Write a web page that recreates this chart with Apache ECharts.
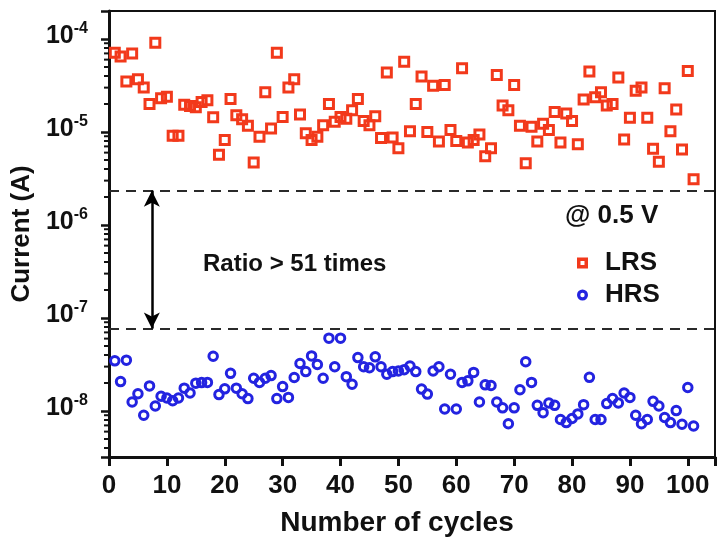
<!DOCTYPE html>
<html><head><meta charset="utf-8">
<script src="https://cdn.jsdelivr.net/npm/echarts@6/dist/echarts.min.js"></script>
<style>html,body{margin:0;padding:0;background:#fff}#c{width:718px;height:542px}</style>
</head><body><div id="c"></div>
<script>
const cycles = [1,2,3,4,5,6,7,8,9,10,11,12,13,14,15,16,17,18,19,20,21,22,23,24,25,26,27,28,29,30,31,32,33,34,35,36,37,38,39,40,41,42,43,44,45,46,47,48,49,50,51,52,53,54,55,56,57,58,59,60,61,62,63,64,65,66,67,68,69,70,71,72,73,74,75,76,77,78,79,80,81,82,83,84,85,86,87,88,89,90,91,92,93,94,95,96,97,98,99,100,101];
const lrs = [7.1e-5,6.5e-5,3.5e-5,7.0e-5,3.7e-5,3.0e-5,2.0e-5,9.1e-5,2.3e-5,2.4e-5,
  9.1e-6,9.1e-6,1.96e-5,1.9e-5,1.85e-5,2.1e-5,2.2e-5,1.44e-5,5.7e-6,8.2e-6,
  2.27e-5,1.51e-5,1.37e-5,1.17e-5,4.7e-6,8.9e-6,2.67e-5,1.09e-5,7.1e-5,1.45e-5,
  3.0e-5,3.7e-5,1.54e-5,9.7e-6,8.2e-6,8.9e-6,1.18e-5,2.0e-5,1.29e-5,1.45e-5,
  1.39e-5,1.71e-5,2.27e-5,1.31e-5,1.18e-5,1.48e-5,8.6e-6,4.36e-5,8.7e-6,6.7e-6,
  5.7e-5,1.02e-5,2.0e-5,3.95e-5,1.0e-5,3.15e-5,7.9e-6,3.2e-5,1.05e-5,8.0e-6,
  4.84e-5,7.7e-6,8.2e-6,9.4e-6,5.5e-6,6.7e-6,4.1e-5,1.93e-5,1.71e-5,3.2e-5,
  1.17e-5,4.6e-6,1.14e-5,7.9e-6,1.23e-5,1.05e-5,1.64e-5,7.7e-6,1.58e-5,1.31e-5,
  7.4e-6,2.24e-5,4.46e-5,2.37e-5,2.67e-5,1.93e-5,2.0e-5,3.86e-5,8.3e-6,1.42e-5,
  2.78e-5,3.0e-5,1.42e-5,6.6e-6,4.8e-6,2.95e-5,1.02e-5,1.74e-5,6.5e-6,4.54e-5,3.1e-6];
const hrs = [3.46e-8,2.07e-8,3.52e-8,1.25e-8,1.53e-8,9.0e-9,1.86e-8,1.13e-8,1.44e-8,1.38e-8,
  1.29e-8,1.38e-8,1.76e-8,1.56e-8,1.99e-8,2.02e-8,2.03e-8,3.88e-8,1.5e-8,1.73e-8,
  2.54e-8,1.76e-8,1.53e-8,1.36e-8,2.25e-8,2.03e-8,2.25e-8,2.4e-8,1.36e-8,1.83e-8,
  1.4e-8,2.29e-8,3.24e-8,2.65e-8,3.91e-8,3.16e-8,2.25e-8,6.07e-8,2.99e-8,6.07e-8,
  2.34e-8,1.94e-8,3.75e-8,2.99e-8,2.92e-8,3.82e-8,2.99e-8,2.48e-8,2.65e-8,2.69e-8,
  2.78e-8,3.04e-8,2.65e-8,1.72e-8,1.52e-8,2.69e-8,2.99e-8,1.05e-8,2.48e-8,1.05e-8,
  2.03e-8,2.11e-8,2.6e-8,1.25e-8,1.91e-8,1.88e-8,1.25e-8,1.08e-8,7.3e-9,1.08e-8,
  1.69e-8,3.38e-8,2.03e-8,1.15e-8,9.6e-9,1.22e-8,1.15e-8,8.1e-9,7.5e-9,8.3e-9,
  9.3e-9,1.17e-8,2.3e-8,8.1e-9,8.1e-9,1.2e-8,1.36e-8,1.22e-8,1.56e-8,1.4e-8,
  9.0e-9,7.3e-9,8.1e-9,1.27e-8,1.13e-8,8.5e-9,7.5e-9,1.01e-8,7.2e-9,1.79e-8,6.9e-9];
const xTickLabels = [0,10,20,30,40,50,60,70,80,90,100];
const yDecadeExponents = [-8,-7,-6,-5,-4];
const yMinorMantissas = [2,3,4,5,6,7,8,9];
const yMinorExponents = [-9,-8,-7,-6,-5,-4];
const upperLine = 2.34e-6;
const lowerLine = 7.7e-8;
const arrowCycle = 7.4;
const seriesNames = ['LRS','HRS'];
const ratioText = 'Ratio > 51 times';
const condText = '@ 0.5 V';

const X_MIN = 0, X_MAX = 104.7;
const Y_MIN = 3.2e-9, Y_MAX = 2.0e-4;
const FONT = '"Liberation Sans", Arial, sans-serif';
const RED = '#f2391b', BLUE = '#2323e0', INK = '#111';

const minorTicks = [];
yMinorExponents.forEach(e => yMinorMantissas.forEach(m => {
  const v = m * Math.pow(10, e);
  if (v > Y_MIN && v < Y_MAX) minorTicks.push(v);
}));

const dashStyle = {type: [10, 7], color: '#2a2a2a', width: 2};
const squareRingIcon = 'path://M0,0H11V11H0Z M3.5,3.5V7.5H7.5V3.5Z';
const circleRingIcon = 'path://M5.5,0A5.5,5.5 0 1,1 5.5,11A5.5,5.5 0 1,1 5.5,0Z M5.5,3.3A2.2,2.2 0 1,0 5.5,7.7A2.2,2.2 0 1,0 5.5,3.3Z';

const chart = echarts.init(document.getElementById('c'), null, {renderer: 'canvas'});
chart.setOption({
  animation: false,
  backgroundColor: '#fff',
  textStyle: {fontFamily: FONT},
  grid: {left: 109, right: 3, top: 11, bottom: 79, show: true, borderColor: INK, borderWidth: 2, containLabel: false},
  xAxis: {
    type: 'value', min: X_MIN, max: X_MAX, interval: 10,
    axisLine: {lineStyle: {color: INK, width: 3}},
    axisTick: {length: 9, lineStyle: {color: INK, width: 3}},
    axisLabel: {fontSize: 26, fontWeight: 'bold', color: INK, margin: 16, fontFamily: FONT,
      formatter: v => (xTickLabels.indexOf(v) >= 0 ? String(v) : '')},
    splitLine: {show: false},
    name: 'Number of cycles', nameLocation: 'middle', nameGap: 52,
    nameTextStyle: {fontSize: 28, fontWeight: 'bold', color: INK, fontFamily: FONT, padding: [0, 30, 0, 0]}
  },
  yAxis: {
    type: 'log', logBase: 10, min: Y_MIN, max: Y_MAX,
    axisLine: {show: true, lineStyle: {color: INK, width: 3}},
    axisTick: {length: 8, lineStyle: {color: INK, width: 2.5}},
    splitLine: {show: false},
    axisLabel: {
      margin: 21, padding: [0,0,6,0], color: INK,
      formatter: v => {
        const e = Math.log10(v);
        const r = Math.round(e);
        if (Math.abs(e - r) > 1e-6 || yDecadeExponents.indexOf(r) < 0) return '';
        return '{b|10}{s|' + r + '}';
      },
      rich: {
        b: {fontSize: 25, fontWeight: 'bold', color: INK, fontFamily: FONT, lineHeight: 30},
        s: {fontSize: 16, fontWeight: 'bold', color: INK, fontFamily: FONT, lineHeight: 16, verticalAlign: 'top'}
      }
    },
    name: 'Current (A)', nameLocation: 'middle', nameGap: 70,
    nameTextStyle: {fontSize: 26, fontWeight: 'bold', color: INK, fontFamily: FONT}
  },
  legend: {
    data: [
      {name: seriesNames[0], icon: squareRingIcon, itemStyle: {color: RED, borderWidth: 0}},
      {name: seriesNames[1], icon: circleRingIcon, itemStyle: {color: BLUE, borderWidth: 0}}
    ],
    orient: 'vertical', left: 572, top: 245,
    itemWidth: 11, itemHeight: 11, itemGap: 6,
    textStyle: {fontSize: 26, fontWeight: 'bold', color: INK, fontFamily: FONT, lineHeight: 26, padding: [0,0,0,12]}
  },
  graphic: [
    {type: 'text', left: 565, top: 203, style: {text: condText, font: 'bold 26px ' + FONT, fill: INK}},
    {type: 'text', left: 203, top: 252, style: {text: ratioText, font: 'bold 24px ' + FONT, fill: INK}}
  ],
  series: [
    {
      name: 'LRS', type: 'scatter', symbol: 'rect', symbolSize: 9, z: 3,
      data: cycles.map((c, i) => [c, lrs[i]]),
      itemStyle: {color: 'rgba(255,255,255,0)', borderColor: RED, borderWidth: 3, opacity: 1},
      markLine: {
        silent: true, symbol: ['none', 'none'], animation: false,
        label: {show: false},
        lineStyle: dashStyle,
        data: [
          [{coord: [X_MIN, upperLine]}, {coord: [X_MAX, upperLine]}],
          [{coord: [X_MIN, lowerLine]}, {coord: [X_MAX, lowerLine]}],
          [
            {coord: [arrowCycle, upperLine], symbol: 'arrow', symbolSize: [12, 16], lineStyle: {type: 'solid', color: '#000', width: 2.5}},
            {coord: [arrowCycle, lowerLine], symbol: 'arrow', symbolSize: [12, 16]}
          ]
        ]
      }
    },
    {
      name: 'HRS', type: 'scatter', symbol: 'circle', symbolSize: 8.5, z: 3,
      data: cycles.map((c, i) => [c, hrs[i]]),
      itemStyle: {color: 'rgba(255,255,255,0)', borderColor: BLUE, borderWidth: 3, opacity: 1}
    },
    {
      name: 'minorTicks', type: 'custom', silent: true, clip: false, z: 5,
      data: minorTicks.map(v => [0, v]),
      renderItem: (params, api) => {
        const p = api.coord([0, api.value(1)]);
        return {type: 'line', shape: {x1: p[0] - 5, y1: p[1], x2: p[0], y2: p[1]}, style: {stroke: INK, lineWidth: 2}};
      }
    }
  ]
});
</script>
</body></html>
